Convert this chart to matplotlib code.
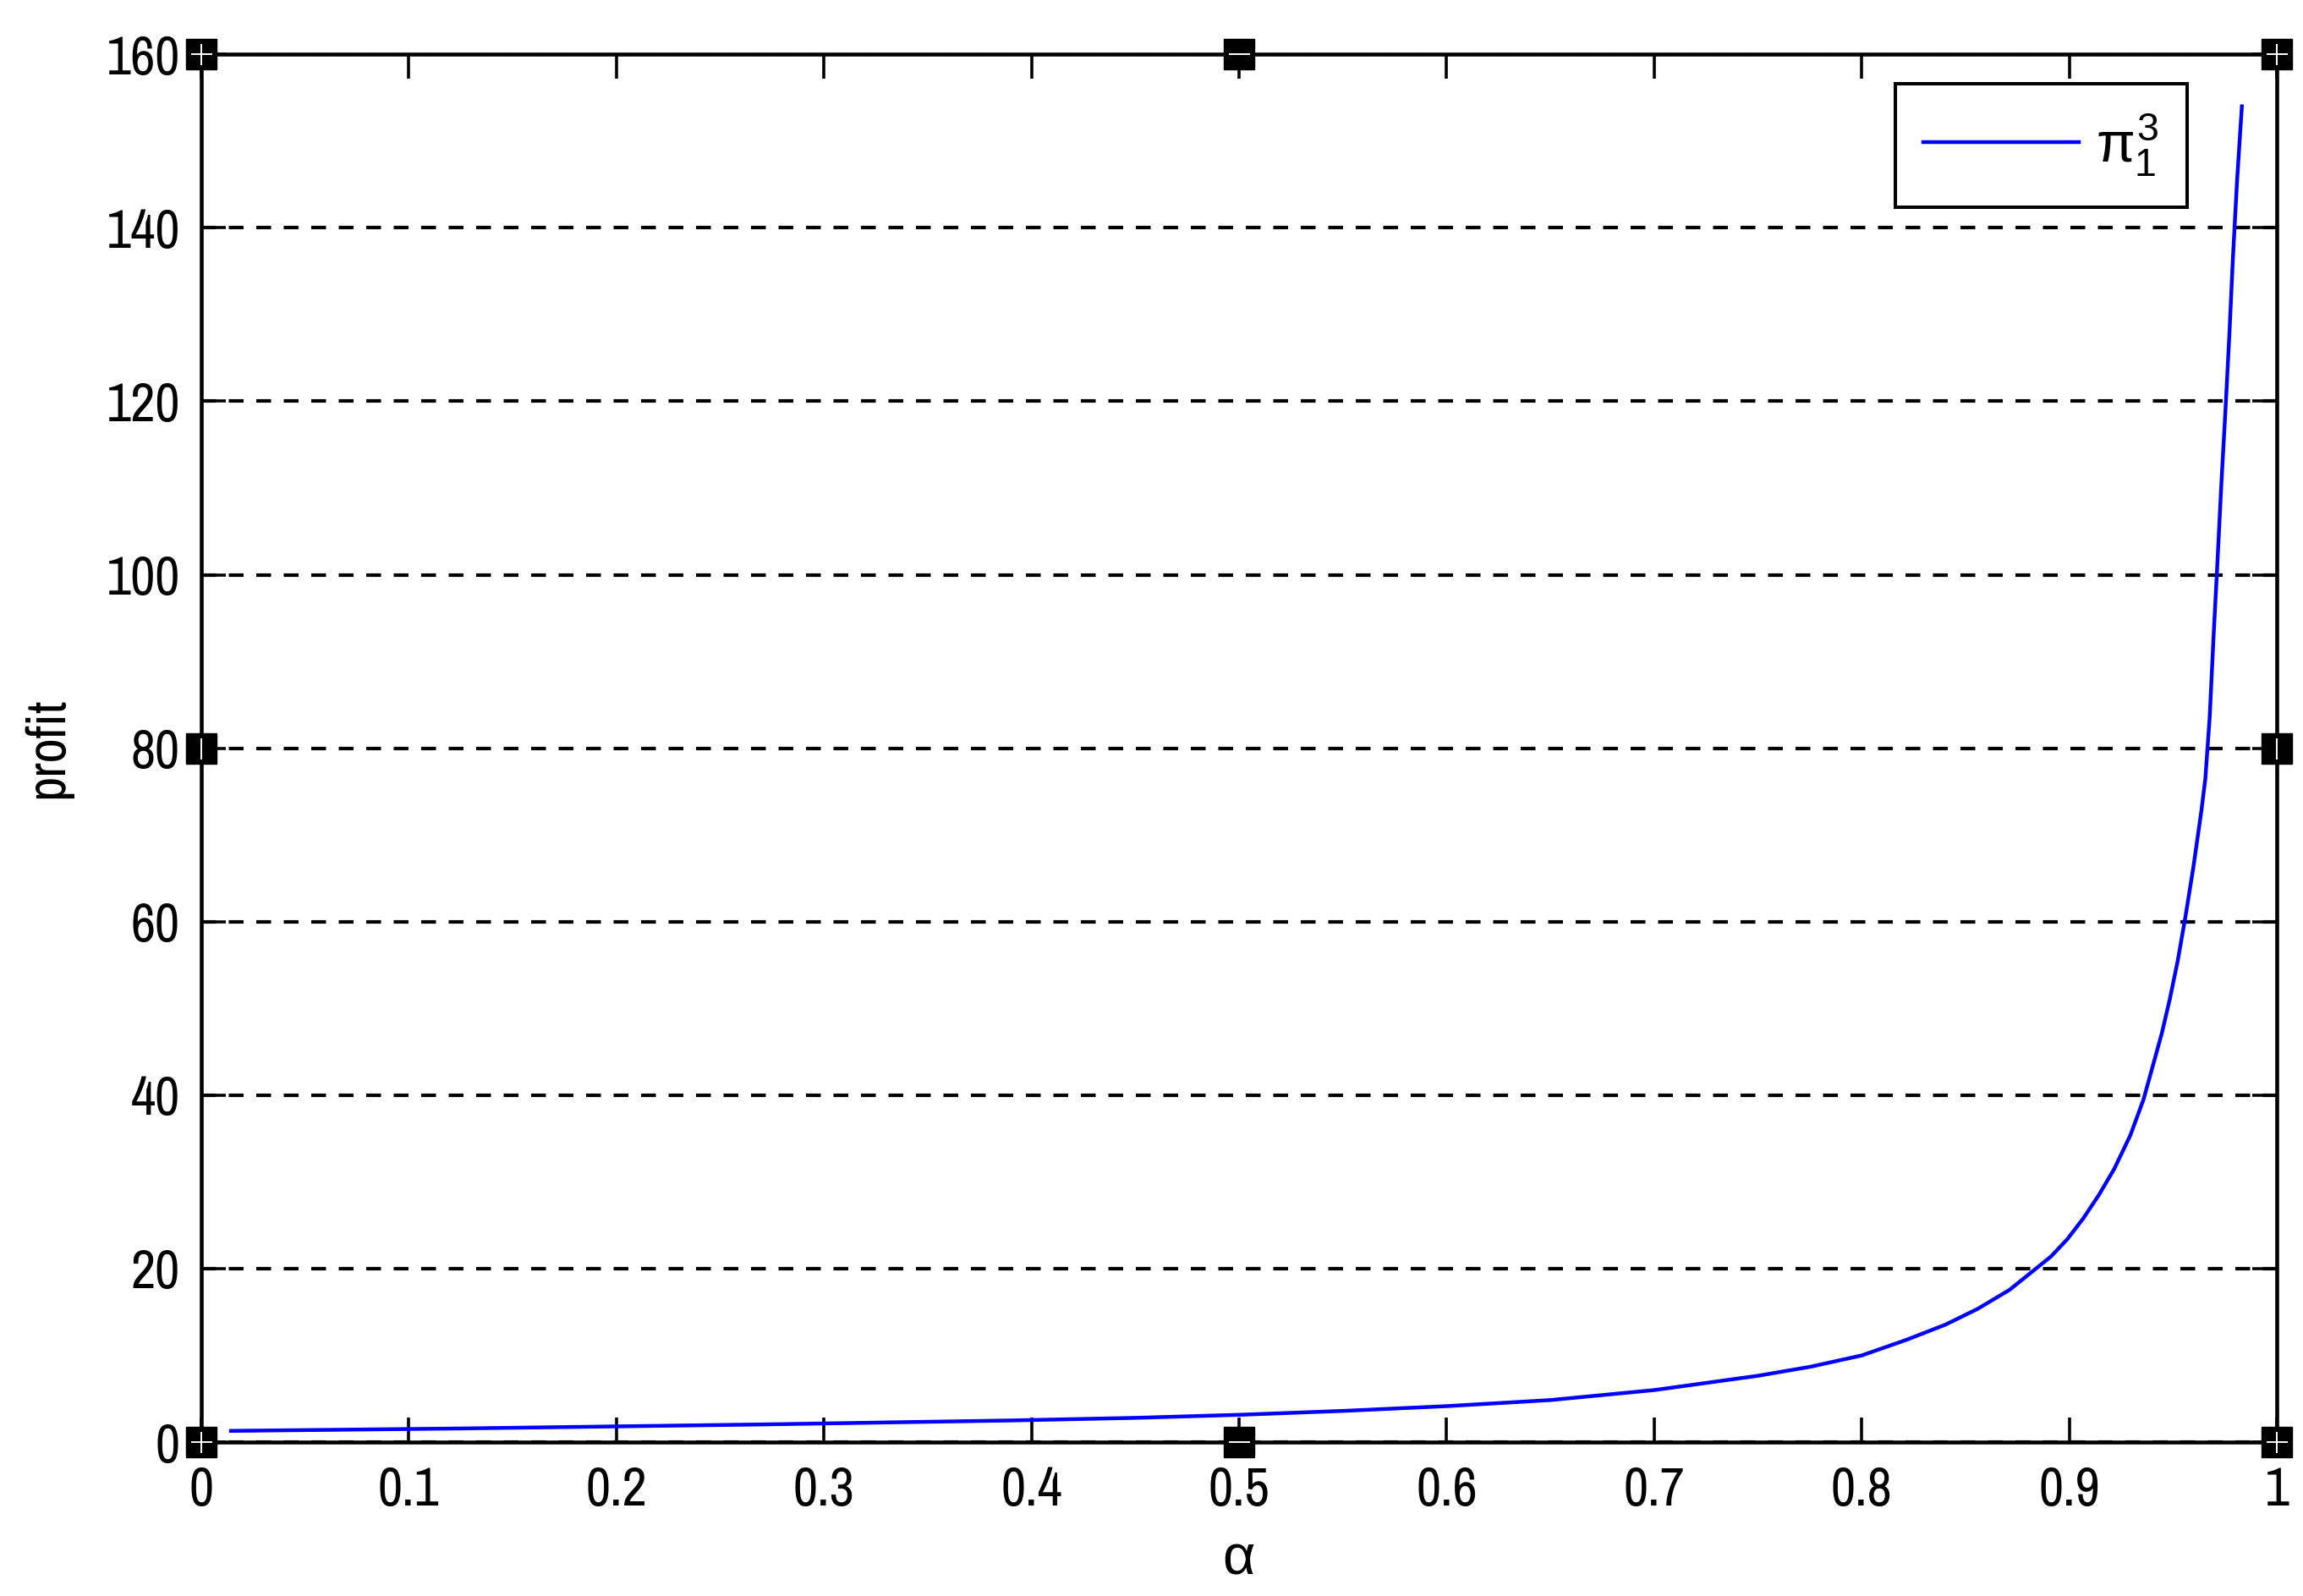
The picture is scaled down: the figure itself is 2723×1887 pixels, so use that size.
import matplotlib
matplotlib.use("Agg")
import matplotlib.pyplot as plt
from matplotlib import font_manager as fm

# values
alpha = [0.0143, 0.126, 0.27, 0.39, 0.45, 0.5, 0.55, 0.6, 0.65, 0.7,
         0.75, 0.7755, 0.8001, 0.8214, 0.8404, 0.8557, 0.8712, 0.8827, 0.8912, 0.8991,
         0.9068, 0.9143, 0.9217, 0.9295, 0.9358, 0.9409, 0.9447, 0.9485, 0.9523, 0.9561,
         0.9599, 0.9637, 0.9656, 0.9677, 0.9695, 0.9715, 0.9733, 0.9753, 0.9772, 0.9789,
         0.9809, 0.9832]
profit = [1.3, 1.58, 2.04, 2.5, 2.8, 3.15, 3.6, 4.15, 4.85, 6.0,
          7.65, 8.7, 10.0, 11.78, 13.55, 15.34, 17.55, 19.76, 21.4, 23.4,
          25.8, 28.5, 31.5, 35.4, 39.5, 43.9, 47.2, 51.1, 55.5, 60.7,
          66.4, 72.8, 76.5, 83.6, 92.6, 101.8, 110.4, 119.0, 127.8, 136.6,
          145.5, 154.0]

x_ticks = [0, 0.1, 0.2, 0.3, 0.4, 0.5, 0.6, 0.7, 0.8, 0.9, 1]
x_labels = ["0", "0.1", "0.2", "0.3", "0.4", "0.5", "0.6", "0.7", "0.8", "0.9", "1"]
y_ticks = [0, 20, 40, 60, 80, 100, 120, 140, 160]
y_labels = ["0", "20", "40", "60", "80", "100", "120", "140", "160"]

# selection handles left over from the MATLAB figure editor
handle_x = [0, 0.5, 1, 0, 1, 0, 0.5, 1]
handle_y = [0, 0, 0, 80, 80, 160, 160, 160]


def narrow_font():
    # the labels in the reference are tall and narrow, look for a narrow sans
    fonts = fm.fontManager.ttflist
    for name in ['Liberation Sans Narrow', 'Arial Narrow', 'Nimbus Sans Narrow']:
        for f in fonts:
            if f.name == name and f.style == 'normal' and f.weight in (400, 'normal', 'regular'):
                return f.fname
    found = []
    for f in fonts:
        if f.name.startswith('DejaVu') or f.style != 'normal':
            continue
        if f.weight not in (400, 'normal', 'regular'):
            continue
        tag = (f.name + ' ' + str(f.stretch) + ' ' + f.fname).lower()
        if 'condensed' in tag and 'extra' not in tag and 'semi' not in tag:
            found.append(f.fname)
    if found:
        return sorted(found)[0]
    return None


path = narrow_font()
if path:
    fp = fm.FontProperties(fname=path, size=46)
else:
    fp = fm.FontProperties(family='Liberation Sans', size=46)

plt.rcParams['font.family'] = ['Liberation Sans', 'DejaVu Sans']
plt.rcParams['mathtext.fontset'] = 'custom'
plt.rcParams['mathtext.rm'] = 'Liberation Sans'
plt.rcParams['mathtext.it'] = 'Liberation Sans'

fig = plt.figure(figsize=(27.23, 18.87), dpi=100)
ax = fig.add_axes([0.0874, 0.0964, 0.9012, 0.8696])

ax.plot(alpha, profit, color='#0000ff', lw=3.2, label=r'$\pi_1^3$', zorder=3)

ax.set_xlim(0, 1)
ax.set_ylim(0, 160)
ax.set_xticks(x_ticks)
ax.set_xticklabels(x_labels)
ax.set_yticks(y_ticks)
ax.set_yticklabels(y_labels)
ax.tick_params(direction='in', length=21, width=2.6,
               top=True, right=True, pad=20, colors='black')
ax.tick_params(axis='y', pad=18)
for lbl in ax.get_xticklabels() + ax.get_yticklabels():
    lbl.set_fontproperties(fp)

ax.grid(axis='y', color='black', linewidth=3.0, linestyle=(0, (4.2, 3.6)))
ax.grid(axis='x', visible=False)
for s in ax.spines.values():
    s.set_linewidth(3.3)
    s.set_color('black')

ax.set_ylabel('profit', fontproperties=fp)
ax.yaxis.set_label_coords(-0.0742, 0.5)
ax.yaxis.label.set_va('center')
ax.set_xlabel('α', fontsize=48)
ax.xaxis.set_label_coords(0.5, -0.0847)
ax.xaxis.label.set_va('center')

for hx, hy in zip(handle_x, handle_y):
    ax.plot([hx], [hy], marker='s', ms=26, color='black', clip_on=False, zorder=6)
    if hy in (0, 160):
        ax.plot([hx], [hy], marker='_', ms=18, mew=1.4, color='white', clip_on=False, zorder=7)
    if hx in (0, 1):
        ax.plot([hx], [hy], marker='|', ms=18, mew=1.4, color='white', clip_on=False, zorder=7)

leg = ax.legend(loc='upper right', bbox_to_anchor=(0.9497, 0.9475),
                bbox_transform=fig.transFigure, borderaxespad=0,
                fontsize=48, handlelength=2.76, handletextpad=0.3,
                borderpad=0.5, fancybox=False, framealpha=1)
leg.get_frame().set_edgecolor('black')
leg.get_frame().set_linewidth(2.9)

fig.savefig('out.png', dpi=100)
